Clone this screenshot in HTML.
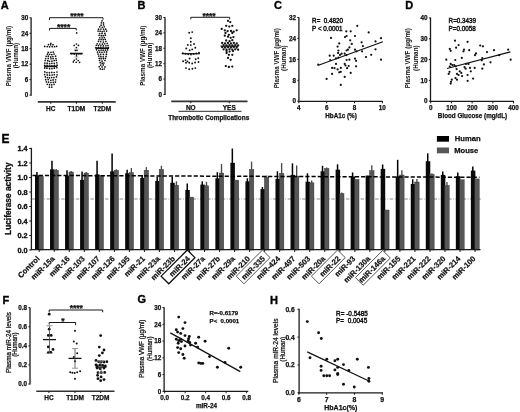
<!DOCTYPE html>
<html><head><meta charset="utf-8"><style>
html,body{margin:0;padding:0;background:#fff;width:520px;height:412px;overflow:hidden;}
svg text{font-family:"Liberation Sans", sans-serif;}
svg{filter:blur(0.4px);}
</style></head><body>
<svg width="520" height="412" viewBox="0 0 520 412" style="display:block">
<rect width="520" height="412" fill="#fff"/>
<g font-family='"Liberation Sans", sans-serif'>
<text x="4.80" y="8.94" font-size="11" font-weight="bold" text-anchor="middle" fill="#000" stroke="#000" stroke-width="0.35">A</text>
<line x1="31.10" y1="17.50" x2="31.10" y2="95.70" stroke="#1a1a1a" stroke-width="1.3" />
<line x1="29.50" y1="95.10" x2="31.10" y2="95.10" stroke="#1a1a1a" stroke-width="1" />
<text x="28.20" y="97.36" font-size="6.3" font-weight="bold" text-anchor="end" fill="#111" stroke="#111" stroke-width="0.25" >0</text>
<line x1="29.50" y1="79.64" x2="31.10" y2="79.64" stroke="#1a1a1a" stroke-width="1" />
<text x="28.20" y="81.89" font-size="6.3" font-weight="bold" text-anchor="end" fill="#111" stroke="#111" stroke-width="0.25" >6</text>
<line x1="29.50" y1="64.18" x2="31.10" y2="64.18" stroke="#1a1a1a" stroke-width="1" />
<text x="28.20" y="66.43" font-size="6.3" font-weight="bold" text-anchor="end" fill="#111" stroke="#111" stroke-width="0.25" >12</text>
<line x1="29.50" y1="48.71" x2="31.10" y2="48.71" stroke="#1a1a1a" stroke-width="1" />
<text x="28.20" y="50.97" font-size="6.3" font-weight="bold" text-anchor="end" fill="#111" stroke="#111" stroke-width="0.25" >18</text>
<line x1="29.50" y1="33.25" x2="31.10" y2="33.25" stroke="#1a1a1a" stroke-width="1" />
<text x="28.20" y="35.51" font-size="6.3" font-weight="bold" text-anchor="end" fill="#111" stroke="#111" stroke-width="0.25" >24</text>
<line x1="29.50" y1="17.79" x2="31.10" y2="17.79" stroke="#1a1a1a" stroke-width="1" />
<text x="28.20" y="20.05" font-size="6.3" font-weight="bold" text-anchor="end" fill="#111" stroke="#111" stroke-width="0.25" >30</text>
<text transform="translate(10.90,56.00) rotate(-90)" font-size="6.3" font-weight="bold" text-anchor="middle" fill="#111">Plasma VWF (µg/ml)</text>
<text transform="translate(18.20,55.60) rotate(-90)" font-size="6.3" font-weight="bold" text-anchor="middle" fill="#111">(Human)</text>
<line x1="37.80" y1="101.90" x2="115.70" y2="101.90" stroke="#333" stroke-width="1.7" />
<line x1="50.80" y1="102.00" x2="50.80" y2="103.80" stroke="#1a1a1a" stroke-width="1" />
<text x="50.80" y="110.53" font-size="6.5" font-weight="bold" text-anchor="middle" fill="#111" stroke="#111" stroke-width="0.25" >HC</text>
<line x1="76.40" y1="102.00" x2="76.40" y2="103.80" stroke="#1a1a1a" stroke-width="1" />
<text x="76.40" y="110.53" font-size="6.5" font-weight="bold" text-anchor="middle" fill="#111" stroke="#111" stroke-width="0.25" >T1DM</text>
<line x1="102.30" y1="102.00" x2="102.30" y2="103.80" stroke="#1a1a1a" stroke-width="1" />
<text x="102.30" y="110.53" font-size="6.5" font-weight="bold" text-anchor="middle" fill="#111" stroke="#111" stroke-width="0.25" >T2DM</text>
<polyline points="49.50,19.90 49.50,17.70 103.00,17.70 103.00,19.70" fill="none" stroke="#1a1a1a" stroke-width="1"/>
<text x="76.90" y="18.95" font-size="8.5" font-weight="bold" text-anchor="middle" fill="#111" stroke="#111" stroke-width="0.25">****</text>
<polyline points="49.50,30.40 49.50,28.40 76.20,28.40 76.20,30.40" fill="none" stroke="#1a1a1a" stroke-width="1"/>
<text x="63.60" y="29.55" font-size="8.5" font-weight="bold" text-anchor="middle" fill="#111" stroke="#111" stroke-width="0.25">****</text>
<circle cx="50.82" cy="43.30" r="0.85" fill="#111"/>
<circle cx="48.48" cy="44.61" r="0.85" fill="#111"/>
<circle cx="50.60" cy="44.83" r="0.85" fill="#111"/>
<circle cx="52.99" cy="44.68" r="0.85" fill="#111"/>
<circle cx="44.73" cy="46.39" r="0.85" fill="#111"/>
<circle cx="47.23" cy="46.58" r="0.85" fill="#111"/>
<circle cx="49.52" cy="46.79" r="0.85" fill="#111"/>
<circle cx="52.19" cy="46.69" r="0.85" fill="#111"/>
<circle cx="54.58" cy="46.70" r="0.85" fill="#111"/>
<circle cx="56.71" cy="46.29" r="0.85" fill="#111"/>
<circle cx="48.23" cy="52.44" r="0.85" fill="#111"/>
<circle cx="50.93" cy="52.26" r="0.85" fill="#111"/>
<circle cx="53.28" cy="52.07" r="0.85" fill="#111"/>
<circle cx="47.45" cy="54.21" r="0.85" fill="#111"/>
<circle cx="49.65" cy="54.36" r="0.85" fill="#111"/>
<circle cx="51.85" cy="54.55" r="0.85" fill="#111"/>
<circle cx="54.07" cy="54.09" r="0.85" fill="#111"/>
<circle cx="46.21" cy="56.33" r="0.85" fill="#111"/>
<circle cx="48.29" cy="56.22" r="0.85" fill="#111"/>
<circle cx="50.72" cy="56.90" r="0.85" fill="#111"/>
<circle cx="52.90" cy="56.56" r="0.85" fill="#111"/>
<circle cx="55.60" cy="56.18" r="0.85" fill="#111"/>
<circle cx="45.69" cy="58.53" r="0.85" fill="#111"/>
<circle cx="48.27" cy="58.42" r="0.85" fill="#111"/>
<circle cx="50.99" cy="58.76" r="0.85" fill="#111"/>
<circle cx="53.10" cy="58.56" r="0.85" fill="#111"/>
<circle cx="55.90" cy="58.50" r="0.85" fill="#111"/>
<circle cx="45.14" cy="60.48" r="0.85" fill="#111"/>
<circle cx="47.75" cy="60.72" r="0.85" fill="#111"/>
<circle cx="49.47" cy="61.27" r="0.85" fill="#111"/>
<circle cx="51.93" cy="61.17" r="0.85" fill="#111"/>
<circle cx="54.22" cy="60.60" r="0.85" fill="#111"/>
<circle cx="56.30" cy="60.32" r="0.85" fill="#111"/>
<circle cx="44.87" cy="63.11" r="0.85" fill="#111"/>
<circle cx="47.13" cy="63.20" r="0.85" fill="#111"/>
<circle cx="49.63" cy="63.64" r="0.85" fill="#111"/>
<circle cx="51.93" cy="63.32" r="0.85" fill="#111"/>
<circle cx="54.29" cy="63.23" r="0.85" fill="#111"/>
<circle cx="56.75" cy="62.73" r="0.85" fill="#111"/>
<circle cx="44.68" cy="65.46" r="0.85" fill="#111"/>
<circle cx="47.07" cy="65.47" r="0.85" fill="#111"/>
<circle cx="49.67" cy="66.03" r="0.85" fill="#111"/>
<circle cx="51.84" cy="65.78" r="0.85" fill="#111"/>
<circle cx="54.41" cy="65.41" r="0.85" fill="#111"/>
<circle cx="57.07" cy="65.13" r="0.85" fill="#111"/>
<circle cx="44.73" cy="67.91" r="0.85" fill="#111"/>
<circle cx="46.91" cy="68.14" r="0.85" fill="#111"/>
<circle cx="49.59" cy="68.67" r="0.85" fill="#111"/>
<circle cx="51.96" cy="68.54" r="0.85" fill="#111"/>
<circle cx="54.33" cy="68.21" r="0.85" fill="#111"/>
<circle cx="56.89" cy="67.75" r="0.85" fill="#111"/>
<circle cx="44.85" cy="71.90" r="0.85" fill="#111"/>
<circle cx="46.97" cy="72.61" r="0.85" fill="#111"/>
<circle cx="49.39" cy="72.63" r="0.85" fill="#111"/>
<circle cx="51.76" cy="72.45" r="0.85" fill="#111"/>
<circle cx="54.25" cy="72.50" r="0.85" fill="#111"/>
<circle cx="56.98" cy="72.00" r="0.85" fill="#111"/>
<circle cx="44.68" cy="74.53" r="0.85" fill="#111"/>
<circle cx="47.25" cy="74.93" r="0.85" fill="#111"/>
<circle cx="49.58" cy="75.17" r="0.85" fill="#111"/>
<circle cx="52.11" cy="75.09" r="0.85" fill="#111"/>
<circle cx="54.26" cy="74.73" r="0.85" fill="#111"/>
<circle cx="57.03" cy="74.76" r="0.85" fill="#111"/>
<circle cx="45.37" cy="76.90" r="0.85" fill="#111"/>
<circle cx="47.48" cy="77.56" r="0.85" fill="#111"/>
<circle cx="49.49" cy="77.84" r="0.85" fill="#111"/>
<circle cx="51.69" cy="77.57" r="0.85" fill="#111"/>
<circle cx="53.95" cy="77.53" r="0.85" fill="#111"/>
<circle cx="56.47" cy="76.96" r="0.85" fill="#111"/>
<circle cx="45.65" cy="79.70" r="0.85" fill="#111"/>
<circle cx="48.21" cy="79.58" r="0.85" fill="#111"/>
<circle cx="50.82" cy="80.32" r="0.85" fill="#111"/>
<circle cx="53.10" cy="79.95" r="0.85" fill="#111"/>
<circle cx="55.69" cy="79.74" r="0.85" fill="#111"/>
<circle cx="46.36" cy="81.87" r="0.85" fill="#111"/>
<circle cx="48.53" cy="82.15" r="0.85" fill="#111"/>
<circle cx="50.99" cy="82.49" r="0.85" fill="#111"/>
<circle cx="53.32" cy="82.33" r="0.85" fill="#111"/>
<circle cx="55.42" cy="82.08" r="0.85" fill="#111"/>
<circle cx="47.28" cy="84.31" r="0.85" fill="#111"/>
<circle cx="49.54" cy="84.64" r="0.85" fill="#111"/>
<circle cx="51.73" cy="84.78" r="0.85" fill="#111"/>
<circle cx="54.07" cy="84.35" r="0.85" fill="#111"/>
<circle cx="49.44" cy="87.18" r="0.85" fill="#111"/>
<circle cx="51.80" cy="87.06" r="0.85" fill="#111"/>
<circle cx="76.65" cy="32.90" r="0.85" fill="#111"/>
<circle cx="76.48" cy="44.00" r="0.85" fill="#111"/>
<circle cx="74.19" cy="45.46" r="0.85" fill="#111"/>
<circle cx="78.47" cy="45.45" r="0.85" fill="#111"/>
<circle cx="76.40" cy="47.60" r="0.85" fill="#111"/>
<circle cx="75.42" cy="50.39" r="0.85" fill="#111"/>
<circle cx="76.97" cy="50.32" r="0.85" fill="#111"/>
<circle cx="71.59" cy="53.65" r="0.85" fill="#111"/>
<circle cx="74.24" cy="54.09" r="0.85" fill="#111"/>
<circle cx="76.63" cy="54.12" r="0.85" fill="#111"/>
<circle cx="78.86" cy="53.81" r="0.85" fill="#111"/>
<circle cx="81.00" cy="53.87" r="0.85" fill="#111"/>
<circle cx="76.52" cy="55.90" r="0.85" fill="#111"/>
<circle cx="76.42" cy="59.00" r="0.85" fill="#111"/>
<circle cx="74.23" cy="60.26" r="0.85" fill="#111"/>
<circle cx="78.24" cy="60.51" r="0.85" fill="#111"/>
<circle cx="73.36" cy="61.96" r="0.85" fill="#111"/>
<circle cx="76.19" cy="62.27" r="0.85" fill="#111"/>
<circle cx="79.60" cy="62.32" r="0.85" fill="#111"/>
<circle cx="102.02" cy="20.80" r="0.85" fill="#111"/>
<circle cx="101.32" cy="22.80" r="0.85" fill="#111"/>
<circle cx="103.46" cy="22.89" r="0.85" fill="#111"/>
<circle cx="101.08" cy="25.17" r="0.85" fill="#111"/>
<circle cx="103.58" cy="24.92" r="0.85" fill="#111"/>
<circle cx="99.78" cy="26.82" r="0.85" fill="#111"/>
<circle cx="102.32" cy="27.37" r="0.85" fill="#111"/>
<circle cx="104.34" cy="26.75" r="0.85" fill="#111"/>
<circle cx="98.55" cy="29.20" r="0.85" fill="#111"/>
<circle cx="100.98" cy="29.04" r="0.85" fill="#111"/>
<circle cx="103.58" cy="29.09" r="0.85" fill="#111"/>
<circle cx="105.71" cy="29.19" r="0.85" fill="#111"/>
<circle cx="98.07" cy="31.09" r="0.85" fill="#111"/>
<circle cx="100.08" cy="31.17" r="0.85" fill="#111"/>
<circle cx="102.22" cy="31.55" r="0.85" fill="#111"/>
<circle cx="104.09" cy="31.05" r="0.85" fill="#111"/>
<circle cx="106.58" cy="31.09" r="0.85" fill="#111"/>
<circle cx="99.61" cy="33.51" r="0.85" fill="#111"/>
<circle cx="102.05" cy="33.41" r="0.85" fill="#111"/>
<circle cx="104.92" cy="33.41" r="0.85" fill="#111"/>
<circle cx="99.07" cy="35.35" r="0.85" fill="#111"/>
<circle cx="101.28" cy="35.65" r="0.85" fill="#111"/>
<circle cx="103.18" cy="35.70" r="0.85" fill="#111"/>
<circle cx="105.26" cy="35.15" r="0.85" fill="#111"/>
<circle cx="99.72" cy="37.76" r="0.85" fill="#111"/>
<circle cx="102.12" cy="37.85" r="0.85" fill="#111"/>
<circle cx="104.30" cy="37.57" r="0.85" fill="#111"/>
<circle cx="99.00" cy="39.61" r="0.85" fill="#111"/>
<circle cx="101.12" cy="39.54" r="0.85" fill="#111"/>
<circle cx="103.25" cy="39.66" r="0.85" fill="#111"/>
<circle cx="105.25" cy="39.27" r="0.85" fill="#111"/>
<circle cx="98.48" cy="41.36" r="0.85" fill="#111"/>
<circle cx="100.69" cy="41.73" r="0.85" fill="#111"/>
<circle cx="103.35" cy="42.06" r="0.85" fill="#111"/>
<circle cx="105.88" cy="41.39" r="0.85" fill="#111"/>
<circle cx="97.29" cy="43.73" r="0.85" fill="#111"/>
<circle cx="99.77" cy="43.98" r="0.85" fill="#111"/>
<circle cx="102.43" cy="44.21" r="0.85" fill="#111"/>
<circle cx="104.65" cy="43.74" r="0.85" fill="#111"/>
<circle cx="107.18" cy="43.49" r="0.85" fill="#111"/>
<circle cx="96.32" cy="45.25" r="0.85" fill="#111"/>
<circle cx="98.46" cy="45.57" r="0.85" fill="#111"/>
<circle cx="100.83" cy="45.86" r="0.85" fill="#111"/>
<circle cx="103.34" cy="45.90" r="0.85" fill="#111"/>
<circle cx="105.95" cy="45.81" r="0.85" fill="#111"/>
<circle cx="108.01" cy="45.48" r="0.85" fill="#111"/>
<circle cx="95.89" cy="47.64" r="0.85" fill="#111"/>
<circle cx="98.51" cy="47.66" r="0.85" fill="#111"/>
<circle cx="100.83" cy="47.92" r="0.85" fill="#111"/>
<circle cx="103.21" cy="48.22" r="0.85" fill="#111"/>
<circle cx="106.10" cy="48.09" r="0.85" fill="#111"/>
<circle cx="108.36" cy="47.70" r="0.85" fill="#111"/>
<circle cx="96.57" cy="49.80" r="0.85" fill="#111"/>
<circle cx="98.87" cy="50.24" r="0.85" fill="#111"/>
<circle cx="101.11" cy="50.03" r="0.85" fill="#111"/>
<circle cx="103.18" cy="50.18" r="0.85" fill="#111"/>
<circle cx="105.41" cy="50.11" r="0.85" fill="#111"/>
<circle cx="107.56" cy="49.95" r="0.85" fill="#111"/>
<circle cx="97.49" cy="52.05" r="0.85" fill="#111"/>
<circle cx="99.69" cy="52.07" r="0.85" fill="#111"/>
<circle cx="101.95" cy="52.36" r="0.85" fill="#111"/>
<circle cx="104.33" cy="51.98" r="0.85" fill="#111"/>
<circle cx="106.57" cy="51.97" r="0.85" fill="#111"/>
<circle cx="98.05" cy="54.08" r="0.85" fill="#111"/>
<circle cx="100.62" cy="54.44" r="0.85" fill="#111"/>
<circle cx="103.41" cy="54.47" r="0.85" fill="#111"/>
<circle cx="106.43" cy="54.13" r="0.85" fill="#111"/>
<circle cx="98.81" cy="56.10" r="0.85" fill="#111"/>
<circle cx="100.92" cy="56.66" r="0.85" fill="#111"/>
<circle cx="103.21" cy="56.78" r="0.85" fill="#111"/>
<circle cx="106.03" cy="56.39" r="0.85" fill="#111"/>
<circle cx="99.19" cy="58.23" r="0.85" fill="#111"/>
<circle cx="101.17" cy="58.63" r="0.85" fill="#111"/>
<circle cx="103.37" cy="58.69" r="0.85" fill="#111"/>
<circle cx="105.41" cy="58.47" r="0.85" fill="#111"/>
<circle cx="99.52" cy="60.47" r="0.85" fill="#111"/>
<circle cx="102.04" cy="61.03" r="0.85" fill="#111"/>
<circle cx="104.94" cy="60.50" r="0.85" fill="#111"/>
<circle cx="100.20" cy="62.65" r="0.85" fill="#111"/>
<circle cx="102.23" cy="63.13" r="0.85" fill="#111"/>
<circle cx="103.89" cy="63.00" r="0.85" fill="#111"/>
<circle cx="100.77" cy="65.08" r="0.85" fill="#111"/>
<circle cx="103.21" cy="64.88" r="0.85" fill="#111"/>
<circle cx="99.23" cy="66.66" r="0.85" fill="#111"/>
<circle cx="102.08" cy="66.89" r="0.85" fill="#111"/>
<circle cx="104.95" cy="66.89" r="0.85" fill="#111"/>
<circle cx="100.25" cy="68.89" r="0.85" fill="#111"/>
<circle cx="102.28" cy="69.25" r="0.85" fill="#111"/>
<circle cx="104.19" cy="69.00" r="0.85" fill="#111"/>
<line x1="44.30" y1="66.40" x2="57.30" y2="66.40" stroke="#111" stroke-width="1.6" />
<line x1="70.00" y1="53.50" x2="82.70" y2="53.50" stroke="#111" stroke-width="1.5" />
<line x1="95.50" y1="48.20" x2="109.00" y2="48.20" stroke="#111" stroke-width="1.6" />
<line x1="73.80" y1="49.20" x2="78.80" y2="49.20" stroke="#aaa" stroke-width="0.7" />
<line x1="73.80" y1="57.20" x2="78.80" y2="57.20" stroke="#aaa" stroke-width="0.7" />
<text x="141.45" y="8.92" font-size="11" font-weight="bold" text-anchor="middle" fill="#000" stroke="#000" stroke-width="0.35">B</text>
<line x1="165.00" y1="17.30" x2="165.00" y2="95.10" stroke="#1a1a1a" stroke-width="1.3" />
<line x1="163.40" y1="94.50" x2="165.00" y2="94.50" stroke="#1a1a1a" stroke-width="1" />
<text x="162.10" y="96.76" font-size="6.3" font-weight="bold" text-anchor="end" fill="#111" stroke="#111" stroke-width="0.25" >0</text>
<line x1="163.40" y1="79.10" x2="165.00" y2="79.10" stroke="#1a1a1a" stroke-width="1" />
<text x="162.10" y="81.35" font-size="6.3" font-weight="bold" text-anchor="end" fill="#111" stroke="#111" stroke-width="0.25" >6</text>
<line x1="163.40" y1="63.70" x2="165.00" y2="63.70" stroke="#1a1a1a" stroke-width="1" />
<text x="162.10" y="65.95" font-size="6.3" font-weight="bold" text-anchor="end" fill="#111" stroke="#111" stroke-width="0.25" >12</text>
<line x1="163.40" y1="48.29" x2="165.00" y2="48.29" stroke="#1a1a1a" stroke-width="1" />
<text x="162.10" y="50.55" font-size="6.3" font-weight="bold" text-anchor="end" fill="#111" stroke="#111" stroke-width="0.25" >18</text>
<line x1="163.40" y1="32.89" x2="165.00" y2="32.89" stroke="#1a1a1a" stroke-width="1" />
<text x="162.10" y="35.15" font-size="6.3" font-weight="bold" text-anchor="end" fill="#111" stroke="#111" stroke-width="0.25" >24</text>
<line x1="163.40" y1="17.49" x2="165.00" y2="17.49" stroke="#1a1a1a" stroke-width="1" />
<text x="162.10" y="19.75" font-size="6.3" font-weight="bold" text-anchor="end" fill="#111" stroke="#111" stroke-width="0.25" >30</text>
<text transform="translate(144.80,55.70) rotate(-90)" font-size="6.3" font-weight="bold" text-anchor="middle" fill="#111">Plasma VWF (µg/ml)</text>
<text transform="translate(152.10,55.30) rotate(-90)" font-size="6.3" font-weight="bold" text-anchor="middle" fill="#111">(Human)</text>
<line x1="171.25" y1="101.30" x2="247.50" y2="101.30" stroke="#333" stroke-width="1.7" />
<line x1="190.75" y1="101.30" x2="190.75" y2="103.20" stroke="#1a1a1a" stroke-width="1" />
<text x="190.75" y="109.93" font-size="6.5" font-weight="bold" text-anchor="middle" fill="#111" stroke="#111" stroke-width="0.25" >NO</text>
<line x1="229.25" y1="101.30" x2="229.25" y2="103.20" stroke="#1a1a1a" stroke-width="1" />
<text x="229.25" y="109.93" font-size="6.5" font-weight="bold" text-anchor="middle" fill="#111" stroke="#111" stroke-width="0.25" >YES</text>
<line x1="178.50" y1="111.40" x2="241.50" y2="111.40" stroke="#555" stroke-width="1.3" />
<text x="208.75" y="119.79" font-size="6.4" font-weight="bold" text-anchor="middle" fill="#111" stroke="#111" stroke-width="0.25" >Thrombotic Complications</text>
<polyline points="190.80,19.40 190.80,17.30 229.70,17.30 229.70,19.40" fill="none" stroke="#1a1a1a" stroke-width="1"/>
<text x="209.00" y="19.15" font-size="8.5" font-weight="bold" text-anchor="middle" fill="#111" stroke="#111" stroke-width="0.25">****</text>
<circle cx="189.20" cy="32.80" r="0.95" fill="#111"/>
<circle cx="192.20" cy="32.10" r="0.95" fill="#111"/>
<circle cx="190.80" cy="38.20" r="0.95" fill="#111"/>
<circle cx="190.80" cy="41.70" r="0.95" fill="#111"/>
<circle cx="187.80" cy="44.90" r="0.95" fill="#111"/>
<circle cx="190.80" cy="45.10" r="0.95" fill="#111"/>
<circle cx="194.00" cy="44.00" r="0.95" fill="#111"/>
<circle cx="186.30" cy="48.50" r="0.95" fill="#111"/>
<circle cx="189.60" cy="50.30" r="0.95" fill="#111"/>
<circle cx="192.20" cy="49.40" r="0.95" fill="#111"/>
<circle cx="195.30" cy="47.80" r="0.95" fill="#111"/>
<circle cx="182.80" cy="53.20" r="0.95" fill="#111"/>
<circle cx="185.50" cy="53.70" r="0.95" fill="#111"/>
<circle cx="188.20" cy="54.20" r="0.95" fill="#111"/>
<circle cx="190.90" cy="54.50" r="0.95" fill="#111"/>
<circle cx="193.60" cy="54.00" r="0.95" fill="#111"/>
<circle cx="196.30" cy="53.50" r="0.95" fill="#111"/>
<circle cx="199.00" cy="52.80" r="0.95" fill="#111"/>
<circle cx="189.60" cy="58.50" r="0.95" fill="#111"/>
<circle cx="195.70" cy="59.20" r="0.95" fill="#111"/>
<circle cx="198.30" cy="58.30" r="0.95" fill="#111"/>
<circle cx="183.10" cy="61.20" r="0.95" fill="#111"/>
<circle cx="185.50" cy="60.10" r="0.95" fill="#111"/>
<circle cx="187.40" cy="61.40" r="0.95" fill="#111"/>
<circle cx="189.20" cy="62.80" r="0.95" fill="#111"/>
<circle cx="192.20" cy="63.50" r="0.95" fill="#111"/>
<circle cx="195.10" cy="62.50" r="0.95" fill="#111"/>
<circle cx="198.50" cy="62.00" r="0.95" fill="#111"/>
<circle cx="186.00" cy="62.80" r="0.95" fill="#111"/>
<circle cx="186.00" cy="68.10" r="0.95" fill="#111"/>
<circle cx="189.20" cy="69.20" r="0.95" fill="#111"/>
<circle cx="192.40" cy="68.70" r="0.95" fill="#111"/>
<circle cx="195.30" cy="68.10" r="0.95" fill="#111"/>
<circle cx="228.00" cy="20.80" r="1.15" fill="#111"/>
<circle cx="230.30" cy="22.10" r="1.15" fill="#111"/>
<circle cx="226.20" cy="25.80" r="1.15" fill="#111"/>
<circle cx="229.30" cy="26.60" r="1.15" fill="#111"/>
<circle cx="232.30" cy="25.80" r="1.15" fill="#111"/>
<circle cx="221.70" cy="28.90" r="1.15" fill="#111"/>
<circle cx="224.80" cy="30.30" r="1.15" fill="#111"/>
<circle cx="227.60" cy="31.20" r="1.15" fill="#111"/>
<circle cx="231.00" cy="31.00" r="1.15" fill="#111"/>
<circle cx="233.70" cy="31.70" r="1.15" fill="#111"/>
<circle cx="236.70" cy="30.30" r="1.15" fill="#111"/>
<circle cx="225.50" cy="33.00" r="1.15" fill="#111"/>
<circle cx="232.30" cy="33.00" r="1.15" fill="#111"/>
<circle cx="224.80" cy="35.70" r="1.15" fill="#111"/>
<circle cx="228.00" cy="36.70" r="1.15" fill="#111"/>
<circle cx="230.70" cy="37.80" r="1.15" fill="#111"/>
<circle cx="228.90" cy="34.80" r="1.15" fill="#111"/>
<circle cx="233.40" cy="37.10" r="1.15" fill="#111"/>
<circle cx="226.20" cy="40.50" r="1.15" fill="#111"/>
<circle cx="229.60" cy="41.20" r="1.15" fill="#111"/>
<circle cx="232.30" cy="40.20" r="1.15" fill="#111"/>
<circle cx="226.60" cy="51.10" r="1.15" fill="#111"/>
<circle cx="229.60" cy="51.60" r="1.15" fill="#111"/>
<circle cx="233.00" cy="51.10" r="1.15" fill="#111"/>
<circle cx="226.60" cy="53.00" r="1.15" fill="#111"/>
<circle cx="228.90" cy="54.80" r="1.15" fill="#111"/>
<circle cx="232.30" cy="54.80" r="1.15" fill="#111"/>
<circle cx="228.00" cy="57.90" r="1.15" fill="#111"/>
<circle cx="230.70" cy="59.80" r="1.15" fill="#111"/>
<circle cx="225.80" cy="66.10" r="1.15" fill="#111"/>
<circle cx="228.90" cy="67.00" r="1.15" fill="#111"/>
<circle cx="232.30" cy="66.60" r="1.15" fill="#111"/>
<circle cx="222.20" cy="43.00" r="1.15" fill="#111"/>
<circle cx="225.10" cy="43.40" r="1.15" fill="#111"/>
<circle cx="228.00" cy="43.00" r="1.15" fill="#111"/>
<circle cx="230.90" cy="43.40" r="1.15" fill="#111"/>
<circle cx="233.80" cy="43.00" r="1.15" fill="#111"/>
<circle cx="236.70" cy="43.40" r="1.15" fill="#111"/>
<circle cx="223.60" cy="45.10" r="1.15" fill="#111"/>
<circle cx="226.50" cy="45.50" r="1.15" fill="#111"/>
<circle cx="229.40" cy="45.10" r="1.15" fill="#111"/>
<circle cx="232.30" cy="45.50" r="1.15" fill="#111"/>
<circle cx="235.20" cy="45.10" r="1.15" fill="#111"/>
<circle cx="238.10" cy="45.50" r="1.15" fill="#111"/>
<circle cx="222.20" cy="47.20" r="1.15" fill="#111"/>
<circle cx="225.10" cy="47.60" r="1.15" fill="#111"/>
<circle cx="228.00" cy="47.20" r="1.15" fill="#111"/>
<circle cx="230.90" cy="47.60" r="1.15" fill="#111"/>
<circle cx="233.80" cy="47.20" r="1.15" fill="#111"/>
<circle cx="236.70" cy="47.60" r="1.15" fill="#111"/>
<circle cx="223.60" cy="49.30" r="1.15" fill="#111"/>
<circle cx="226.50" cy="49.70" r="1.15" fill="#111"/>
<circle cx="229.40" cy="49.30" r="1.15" fill="#111"/>
<circle cx="232.30" cy="49.70" r="1.15" fill="#111"/>
<circle cx="235.20" cy="49.30" r="1.15" fill="#111"/>
<circle cx="238.10" cy="49.70" r="1.15" fill="#111"/>
<line x1="181.70" y1="53.70" x2="199.90" y2="53.70" stroke="#111" stroke-width="1.2" />
<line x1="220.50" y1="46.20" x2="238.00" y2="46.20" stroke="#111" stroke-width="1.2" />
<text x="278.10" y="9.14" font-size="11" font-weight="bold" text-anchor="middle" fill="#000" stroke="#000" stroke-width="0.35">C</text>
<line x1="298.90" y1="17.30" x2="298.90" y2="101.80" stroke="#1a1a1a" stroke-width="1.3" />
<line x1="297.30" y1="101.20" x2="298.90" y2="101.20" stroke="#1a1a1a" stroke-width="1" />
<text x="296.00" y="103.46" font-size="6.3" font-weight="bold" text-anchor="end" fill="#111" stroke="#111" stroke-width="0.25" >0</text>
<line x1="297.30" y1="80.27" x2="298.90" y2="80.27" stroke="#1a1a1a" stroke-width="1" />
<text x="296.00" y="82.53" font-size="6.3" font-weight="bold" text-anchor="end" fill="#111" stroke="#111" stroke-width="0.25" >8</text>
<line x1="297.30" y1="59.34" x2="298.90" y2="59.34" stroke="#1a1a1a" stroke-width="1" />
<text x="296.00" y="61.60" font-size="6.3" font-weight="bold" text-anchor="end" fill="#111" stroke="#111" stroke-width="0.25" >16</text>
<line x1="297.30" y1="38.42" x2="298.90" y2="38.42" stroke="#1a1a1a" stroke-width="1" />
<text x="296.00" y="40.67" font-size="6.3" font-weight="bold" text-anchor="end" fill="#111" stroke="#111" stroke-width="0.25" >24</text>
<line x1="297.30" y1="17.49" x2="298.90" y2="17.49" stroke="#1a1a1a" stroke-width="1" />
<text x="296.00" y="19.74" font-size="6.3" font-weight="bold" text-anchor="end" fill="#111" stroke="#111" stroke-width="0.25" >32</text>
<text transform="translate(278.70,58.20) rotate(-90)" font-size="6.3" font-weight="bold" text-anchor="middle" fill="#111">Plasma VWF (µg/ml)</text>
<text transform="translate(286.00,58.20) rotate(-90)" font-size="6.3" font-weight="bold" text-anchor="middle" fill="#111">(Human)</text>
<line x1="298.20" y1="101.30" x2="382.90" y2="101.30" stroke="#1a1a1a" stroke-width="1.2" />
<line x1="298.80" y1="101.30" x2="298.80" y2="103.30" stroke="#1a1a1a" stroke-width="1" />
<text x="298.80" y="109.86" font-size="6.3" font-weight="bold" text-anchor="middle" fill="#111" stroke="#111" stroke-width="0.25" >4</text>
<line x1="326.66" y1="101.30" x2="326.66" y2="103.30" stroke="#1a1a1a" stroke-width="1" />
<text x="326.66" y="109.86" font-size="6.3" font-weight="bold" text-anchor="middle" fill="#111" stroke="#111" stroke-width="0.25" >6</text>
<line x1="354.52" y1="101.30" x2="354.52" y2="103.30" stroke="#1a1a1a" stroke-width="1" />
<text x="354.52" y="109.86" font-size="6.3" font-weight="bold" text-anchor="middle" fill="#111" stroke="#111" stroke-width="0.25" >8</text>
<line x1="382.38" y1="101.30" x2="382.38" y2="103.30" stroke="#1a1a1a" stroke-width="1" />
<text x="382.38" y="109.86" font-size="6.3" font-weight="bold" text-anchor="middle" fill="#111" stroke="#111" stroke-width="0.25" >10</text>
<text x="341.00" y="118.46" font-size="6.3" font-weight="bold" text-anchor="middle" fill="#111" stroke="#111" stroke-width="0.25" >HbA1c (%)</text>
<text x="312.10" y="22.56" font-size="6.3" font-weight="normal" text-anchor="start" fill="#111" stroke="#111" stroke-width="0.4" >R=&#160;&#160;0.4820</text>
<text x="312.10" y="30.56" font-size="6.3" font-weight="normal" text-anchor="start" fill="#111" stroke="#111" stroke-width="0.4" >P &lt; 0.0001</text>
<circle cx="346.30" cy="31.30" r="1.1" fill="#111"/>
<circle cx="350.70" cy="31.30" r="1.1" fill="#111"/>
<circle cx="368.70" cy="32.40" r="1.1" fill="#111"/>
<circle cx="331.00" cy="37.90" r="1.1" fill="#111"/>
<circle cx="345.00" cy="37.10" r="1.1" fill="#111"/>
<circle cx="346.60" cy="36.00" r="1.1" fill="#111"/>
<circle cx="355.00" cy="36.00" r="1.1" fill="#111"/>
<circle cx="381.00" cy="38.20" r="1.1" fill="#111"/>
<circle cx="350.20" cy="40.30" r="1.1" fill="#111"/>
<circle cx="375.50" cy="41.40" r="1.1" fill="#111"/>
<circle cx="361.60" cy="42.30" r="1.1" fill="#111"/>
<circle cx="339.20" cy="43.40" r="1.1" fill="#111"/>
<circle cx="351.80" cy="43.90" r="1.1" fill="#111"/>
<circle cx="362.90" cy="46.10" r="1.1" fill="#111"/>
<circle cx="337.60" cy="46.60" r="1.1" fill="#111"/>
<circle cx="349.40" cy="47.40" r="1.1" fill="#111"/>
<circle cx="347.90" cy="49.70" r="1.1" fill="#111"/>
<circle cx="346.60" cy="50.50" r="1.1" fill="#111"/>
<circle cx="338.40" cy="50.50" r="1.1" fill="#111"/>
<circle cx="355.00" cy="49.70" r="1.1" fill="#111"/>
<circle cx="356.50" cy="51.30" r="1.1" fill="#111"/>
<circle cx="375.50" cy="49.30" r="1.1" fill="#111"/>
<circle cx="362.10" cy="51.30" r="1.1" fill="#111"/>
<circle cx="338.10" cy="52.90" r="1.1" fill="#111"/>
<circle cx="341.60" cy="53.70" r="1.1" fill="#111"/>
<circle cx="344.70" cy="53.70" r="1.1" fill="#111"/>
<circle cx="340.00" cy="54.90" r="1.1" fill="#111"/>
<circle cx="329.70" cy="55.70" r="1.1" fill="#111"/>
<circle cx="333.70" cy="55.70" r="1.1" fill="#111"/>
<circle cx="346.30" cy="55.20" r="1.1" fill="#111"/>
<circle cx="371.20" cy="54.80" r="1.1" fill="#111"/>
<circle cx="366.00" cy="57.10" r="1.1" fill="#111"/>
<circle cx="336.00" cy="58.40" r="1.1" fill="#111"/>
<circle cx="338.40" cy="57.60" r="1.1" fill="#111"/>
<circle cx="330.20" cy="60.00" r="1.1" fill="#111"/>
<circle cx="346.60" cy="60.00" r="1.1" fill="#111"/>
<circle cx="349.40" cy="59.70" r="1.1" fill="#111"/>
<circle cx="355.00" cy="58.70" r="1.1" fill="#111"/>
<circle cx="356.10" cy="60.80" r="1.1" fill="#111"/>
<circle cx="381.00" cy="59.70" r="1.1" fill="#111"/>
<circle cx="318.20" cy="64.70" r="1.1" fill="#111"/>
<circle cx="336.00" cy="63.90" r="1.1" fill="#111"/>
<circle cx="344.70" cy="63.90" r="1.1" fill="#111"/>
<circle cx="345.50" cy="65.50" r="1.1" fill="#111"/>
<circle cx="348.70" cy="66.00" r="1.1" fill="#111"/>
<circle cx="356.10" cy="66.30" r="1.1" fill="#111"/>
<circle cx="332.10" cy="67.90" r="1.1" fill="#111"/>
<circle cx="334.50" cy="68.20" r="1.1" fill="#111"/>
<circle cx="337.60" cy="69.40" r="1.1" fill="#111"/>
<circle cx="340.80" cy="67.90" r="1.1" fill="#111"/>
<circle cx="347.10" cy="68.20" r="1.1" fill="#111"/>
<circle cx="339.20" cy="72.30" r="1.1" fill="#111"/>
<circle cx="340.80" cy="71.80" r="1.1" fill="#111"/>
<circle cx="332.10" cy="73.90" r="1.1" fill="#111"/>
<circle cx="350.70" cy="72.90" r="1.1" fill="#111"/>
<circle cx="344.70" cy="76.90" r="1.1" fill="#111"/>
<circle cx="326.60" cy="78.90" r="1.1" fill="#111"/>
<circle cx="340.80" cy="84.90" r="1.1" fill="#111"/>
<circle cx="357.30" cy="25.80" r="1.1" fill="#111"/>
<line x1="318.40" y1="65.30" x2="382.90" y2="41.70" stroke="#111" stroke-width="1.2" />
<text x="409.15" y="8.94" font-size="11" font-weight="bold" text-anchor="middle" fill="#000" stroke="#000" stroke-width="0.35">D</text>
<line x1="430.50" y1="17.50" x2="430.50" y2="101.80" stroke="#1a1a1a" stroke-width="1.3" />
<line x1="428.90" y1="101.20" x2="430.50" y2="101.20" stroke="#1a1a1a" stroke-width="1" />
<text x="427.60" y="103.46" font-size="6.3" font-weight="bold" text-anchor="end" fill="#111" stroke="#111" stroke-width="0.25" >0</text>
<line x1="428.90" y1="80.40" x2="430.50" y2="80.40" stroke="#1a1a1a" stroke-width="1" />
<text x="427.60" y="82.66" font-size="6.3" font-weight="bold" text-anchor="end" fill="#111" stroke="#111" stroke-width="0.25" >10</text>
<line x1="428.90" y1="59.60" x2="430.50" y2="59.60" stroke="#1a1a1a" stroke-width="1" />
<text x="427.60" y="61.86" font-size="6.3" font-weight="bold" text-anchor="end" fill="#111" stroke="#111" stroke-width="0.25" >20</text>
<line x1="428.90" y1="38.80" x2="430.50" y2="38.80" stroke="#1a1a1a" stroke-width="1" />
<text x="427.60" y="41.06" font-size="6.3" font-weight="bold" text-anchor="end" fill="#111" stroke="#111" stroke-width="0.25" >30</text>
<line x1="428.90" y1="18.00" x2="430.50" y2="18.00" stroke="#1a1a1a" stroke-width="1" />
<text x="427.60" y="20.26" font-size="6.3" font-weight="bold" text-anchor="end" fill="#111" stroke="#111" stroke-width="0.25" >40</text>
<text transform="translate(410.30,58.20) rotate(-90)" font-size="6.3" font-weight="bold" text-anchor="middle" fill="#111">Plasma VWF (µg/ml)</text>
<text transform="translate(417.60,58.20) rotate(-90)" font-size="6.3" font-weight="bold" text-anchor="middle" fill="#111">(Human)</text>
<line x1="430.00" y1="101.40" x2="514.00" y2="101.40" stroke="#1a1a1a" stroke-width="1.2" />
<line x1="430.70" y1="101.40" x2="430.70" y2="103.40" stroke="#1a1a1a" stroke-width="1" />
<text x="430.70" y="109.86" font-size="6.3" font-weight="bold" text-anchor="middle" fill="#111" stroke="#111" stroke-width="0.25" >0</text>
<line x1="451.42" y1="101.40" x2="451.42" y2="103.40" stroke="#1a1a1a" stroke-width="1" />
<text x="451.42" y="109.86" font-size="6.3" font-weight="bold" text-anchor="middle" fill="#111" stroke="#111" stroke-width="0.25" >100</text>
<line x1="472.14" y1="101.40" x2="472.14" y2="103.40" stroke="#1a1a1a" stroke-width="1" />
<text x="472.14" y="109.86" font-size="6.3" font-weight="bold" text-anchor="middle" fill="#111" stroke="#111" stroke-width="0.25" >200</text>
<line x1="492.86" y1="101.40" x2="492.86" y2="103.40" stroke="#1a1a1a" stroke-width="1" />
<text x="492.86" y="109.86" font-size="6.3" font-weight="bold" text-anchor="middle" fill="#111" stroke="#111" stroke-width="0.25" >300</text>
<line x1="513.58" y1="101.40" x2="513.58" y2="103.40" stroke="#1a1a1a" stroke-width="1" />
<text x="513.58" y="109.86" font-size="6.3" font-weight="bold" text-anchor="middle" fill="#111" stroke="#111" stroke-width="0.25" >400</text>
<text x="472.50" y="118.46" font-size="6.3" font-weight="bold" text-anchor="middle" fill="#111" stroke="#111" stroke-width="0.25" >Blood Glucose (mg/dL)</text>
<text x="448.60" y="22.96" font-size="6.3" font-weight="normal" text-anchor="start" fill="#111" stroke="#111" stroke-width="0.4" >R=0.3439</text>
<text x="448.60" y="30.86" font-size="6.3" font-weight="normal" text-anchor="start" fill="#111" stroke="#111" stroke-width="0.4" >P=0.0058</text>
<circle cx="455.00" cy="40.70" r="1.1" fill="#111"/>
<circle cx="467.60" cy="41.80" r="1.1" fill="#111"/>
<circle cx="458.60" cy="45.00" r="1.1" fill="#111"/>
<circle cx="456.10" cy="47.70" r="1.1" fill="#111"/>
<circle cx="480.20" cy="45.50" r="1.1" fill="#111"/>
<circle cx="482.90" cy="46.30" r="1.1" fill="#111"/>
<circle cx="449.80" cy="48.90" r="1.1" fill="#111"/>
<circle cx="450.70" cy="50.80" r="1.1" fill="#111"/>
<circle cx="464.00" cy="49.70" r="1.1" fill="#111"/>
<circle cx="463.40" cy="51.30" r="1.1" fill="#111"/>
<circle cx="469.20" cy="50.20" r="1.1" fill="#111"/>
<circle cx="487.00" cy="52.10" r="1.1" fill="#111"/>
<circle cx="494.00" cy="50.20" r="1.1" fill="#111"/>
<circle cx="508.20" cy="49.70" r="1.1" fill="#111"/>
<circle cx="476.00" cy="53.40" r="1.1" fill="#111"/>
<circle cx="475.00" cy="55.20" r="1.1" fill="#111"/>
<circle cx="499.20" cy="55.20" r="1.1" fill="#111"/>
<circle cx="446.30" cy="59.70" r="1.1" fill="#111"/>
<circle cx="455.30" cy="60.00" r="1.1" fill="#111"/>
<circle cx="461.80" cy="57.90" r="1.1" fill="#111"/>
<circle cx="482.30" cy="58.10" r="1.1" fill="#111"/>
<circle cx="481.80" cy="60.30" r="1.1" fill="#111"/>
<circle cx="510.70" cy="59.70" r="1.1" fill="#111"/>
<circle cx="490.50" cy="62.30" r="1.1" fill="#111"/>
<circle cx="450.70" cy="63.90" r="1.1" fill="#111"/>
<circle cx="452.30" cy="65.00" r="1.1" fill="#111"/>
<circle cx="454.20" cy="65.00" r="1.1" fill="#111"/>
<circle cx="455.80" cy="66.30" r="1.1" fill="#111"/>
<circle cx="449.80" cy="66.60" r="1.1" fill="#111"/>
<circle cx="466.00" cy="63.90" r="1.1" fill="#111"/>
<circle cx="468.40" cy="63.90" r="1.1" fill="#111"/>
<circle cx="483.90" cy="64.40" r="1.1" fill="#111"/>
<circle cx="464.50" cy="67.10" r="1.1" fill="#111"/>
<circle cx="465.60" cy="68.70" r="1.1" fill="#111"/>
<circle cx="470.00" cy="67.90" r="1.1" fill="#111"/>
<circle cx="474.70" cy="67.90" r="1.1" fill="#111"/>
<circle cx="456.60" cy="69.10" r="1.1" fill="#111"/>
<circle cx="482.30" cy="68.70" r="1.1" fill="#111"/>
<circle cx="470.80" cy="71.30" r="1.1" fill="#111"/>
<circle cx="449.50" cy="71.80" r="1.1" fill="#111"/>
<circle cx="459.70" cy="71.30" r="1.1" fill="#111"/>
<circle cx="461.30" cy="72.90" r="1.1" fill="#111"/>
<circle cx="448.70" cy="73.90" r="1.1" fill="#111"/>
<circle cx="457.00" cy="73.90" r="1.1" fill="#111"/>
<circle cx="458.60" cy="75.00" r="1.1" fill="#111"/>
<circle cx="467.60" cy="75.00" r="1.1" fill="#111"/>
<circle cx="462.10" cy="76.10" r="1.1" fill="#111"/>
<circle cx="455.50" cy="78.10" r="1.1" fill="#111"/>
<circle cx="457.00" cy="79.70" r="1.1" fill="#111"/>
<circle cx="473.10" cy="78.60" r="1.1" fill="#111"/>
<circle cx="467.60" cy="80.80" r="1.1" fill="#111"/>
<circle cx="451.80" cy="79.70" r="1.1" fill="#111"/>
<circle cx="451.00" cy="81.80" r="1.1" fill="#111"/>
<circle cx="450.70" cy="83.60" r="1.1" fill="#111"/>
<line x1="447.00" y1="68.50" x2="510.40" y2="51.90" stroke="#111" stroke-width="1.2" />
<text x="5.55" y="142.50" font-size="12" font-weight="bold" text-anchor="middle" fill="#000" stroke="#000" stroke-width="0.35">E</text>
<line x1="31.40" y1="147.80" x2="31.40" y2="250.00" stroke="#1a1a1a" stroke-width="1.3" />
<line x1="29.20" y1="250.00" x2="31.40" y2="250.00" stroke="#1a1a1a" stroke-width="1" />
<text x="27.70" y="252.61" font-size="7.3" font-weight="bold" text-anchor="end" fill="#111" stroke="#111" stroke-width="0.35" >0.0</text>
<line x1="29.20" y1="235.50" x2="31.40" y2="235.50" stroke="#1a1a1a" stroke-width="1" />
<text x="27.70" y="238.11" font-size="7.3" font-weight="bold" text-anchor="end" fill="#111" stroke="#111" stroke-width="0.35" >0.2</text>
<line x1="29.20" y1="221.00" x2="31.40" y2="221.00" stroke="#1a1a1a" stroke-width="1" />
<text x="27.70" y="223.61" font-size="7.3" font-weight="bold" text-anchor="end" fill="#111" stroke="#111" stroke-width="0.35" >0.4</text>
<line x1="29.20" y1="206.50" x2="31.40" y2="206.50" stroke="#1a1a1a" stroke-width="1" />
<text x="27.70" y="209.11" font-size="7.3" font-weight="bold" text-anchor="end" fill="#111" stroke="#111" stroke-width="0.35" >0.6</text>
<line x1="29.20" y1="192.00" x2="31.40" y2="192.00" stroke="#1a1a1a" stroke-width="1" />
<text x="27.70" y="194.61" font-size="7.3" font-weight="bold" text-anchor="end" fill="#111" stroke="#111" stroke-width="0.35" >0.8</text>
<line x1="29.20" y1="177.50" x2="31.40" y2="177.50" stroke="#1a1a1a" stroke-width="1" />
<text x="27.70" y="180.11" font-size="7.3" font-weight="bold" text-anchor="end" fill="#111" stroke="#111" stroke-width="0.35" >1.0</text>
<line x1="29.20" y1="163.00" x2="31.40" y2="163.00" stroke="#1a1a1a" stroke-width="1" />
<text x="27.70" y="165.61" font-size="7.3" font-weight="bold" text-anchor="end" fill="#111" stroke="#111" stroke-width="0.35" >1.2</text>
<line x1="29.20" y1="148.50" x2="31.40" y2="148.50" stroke="#1a1a1a" stroke-width="1" />
<text x="27.70" y="151.11" font-size="7.3" font-weight="bold" text-anchor="end" fill="#111" stroke="#111" stroke-width="0.35" >1.4</text>
<text transform="translate(10.50,198.70) rotate(-90)" font-size="8.3" font-weight="bold" text-anchor="middle" fill="#111" stroke="#111" stroke-width="0.3">Luciferase activity</text>
<line x1="32.00" y1="199.00" x2="481.00" y2="199.00" stroke="#666" stroke-width="0.75" stroke-dasharray="3.5 1.5 0.8 1.5"/>
<rect x="35.00" y="175.40" width="4.50" height="74.60" fill="#0a0a0a" />
<line x1="36.95" y1="172.00" x2="36.95" y2="175.90" stroke="#000" stroke-width="1.5" />
<rect x="38.90" y="176.30" width="4.50" height="73.70" fill="#575757" stroke="#303030" stroke-width="0.4"/>
<rect x="50.03" y="169.30" width="4.50" height="80.70" fill="#0a0a0a" />
<line x1="51.98" y1="160.80" x2="51.98" y2="169.80" stroke="#000" stroke-width="1.5" />
<rect x="53.93" y="170.20" width="4.50" height="79.80" fill="#575757" stroke="#303030" stroke-width="0.4"/>
<line x1="56.18" y1="169.00" x2="56.18" y2="170.70" stroke="#4a4a4a" stroke-width="1.35" />
<rect x="65.06" y="175.60" width="4.50" height="74.40" fill="#0a0a0a" />
<line x1="67.01" y1="170.20" x2="67.01" y2="176.10" stroke="#000" stroke-width="1.5" />
<rect x="68.96" y="172.00" width="4.50" height="78.00" fill="#575757" stroke="#303030" stroke-width="0.4"/>
<line x1="71.21" y1="171.00" x2="71.21" y2="172.50" stroke="#4a4a4a" stroke-width="1.35" />
<rect x="80.09" y="179.90" width="4.50" height="70.10" fill="#0a0a0a" />
<line x1="82.04" y1="171.40" x2="82.04" y2="180.40" stroke="#000" stroke-width="1.5" />
<rect x="83.99" y="173.00" width="4.50" height="77.00" fill="#575757" stroke="#303030" stroke-width="0.4"/>
<line x1="86.24" y1="172.00" x2="86.24" y2="173.50" stroke="#4a4a4a" stroke-width="1.35" />
<rect x="95.12" y="174.40" width="4.50" height="75.60" fill="#0a0a0a" />
<line x1="97.07" y1="160.80" x2="97.07" y2="174.90" stroke="#000" stroke-width="1.5" />
<rect x="99.02" y="175.40" width="4.50" height="74.60" fill="#575757" stroke="#303030" stroke-width="0.4"/>
<rect x="110.15" y="171.40" width="4.50" height="78.60" fill="#0a0a0a" />
<line x1="112.10" y1="153.50" x2="112.10" y2="171.90" stroke="#000" stroke-width="1.5" />
<rect x="114.05" y="170.20" width="4.50" height="79.80" fill="#575757" stroke="#303030" stroke-width="0.4"/>
<line x1="116.30" y1="169.30" x2="116.30" y2="170.70" stroke="#4a4a4a" stroke-width="1.35" />
<rect x="125.18" y="173.20" width="4.50" height="76.80" fill="#0a0a0a" />
<line x1="127.13" y1="169.80" x2="127.13" y2="173.70" stroke="#000" stroke-width="1.5" />
<rect x="129.08" y="172.60" width="4.50" height="77.40" fill="#575757" stroke="#303030" stroke-width="0.4"/>
<line x1="131.33" y1="168.00" x2="131.33" y2="173.10" stroke="#4a4a4a" stroke-width="1.35" />
<rect x="140.21" y="178.00" width="4.50" height="72.00" fill="#0a0a0a" />
<line x1="142.16" y1="175.00" x2="142.16" y2="178.50" stroke="#000" stroke-width="1.5" />
<rect x="144.11" y="170.20" width="4.50" height="79.80" fill="#575757" stroke="#303030" stroke-width="0.4"/>
<line x1="146.36" y1="167.10" x2="146.36" y2="170.70" stroke="#4a4a4a" stroke-width="1.35" />
<rect x="155.24" y="181.00" width="4.50" height="69.00" fill="#0a0a0a" />
<line x1="157.19" y1="176.70" x2="157.19" y2="181.50" stroke="#000" stroke-width="1.5" />
<rect x="159.14" y="169.40" width="4.50" height="80.60" fill="#575757" stroke="#303030" stroke-width="0.4"/>
<line x1="161.39" y1="165.80" x2="161.39" y2="169.90" stroke="#4a4a4a" stroke-width="1.35" />
<rect x="170.27" y="182.80" width="4.50" height="67.20" fill="#0a0a0a" />
<line x1="172.22" y1="176.70" x2="172.22" y2="183.30" stroke="#000" stroke-width="1.5" />
<rect x="174.17" y="185.20" width="4.50" height="64.80" fill="#575757" stroke="#303030" stroke-width="0.4"/>
<line x1="176.42" y1="181.30" x2="176.42" y2="185.70" stroke="#4a4a4a" stroke-width="1.35" />
<rect x="185.30" y="190.00" width="4.50" height="60.00" fill="#0a0a0a" />
<line x1="187.25" y1="183.40" x2="187.25" y2="190.50" stroke="#000" stroke-width="1.5" />
<rect x="189.20" y="197.10" width="4.50" height="52.90" fill="#575757" stroke="#303030" stroke-width="0.4"/>
<rect x="200.33" y="184.60" width="4.50" height="65.40" fill="#0a0a0a" />
<line x1="202.28" y1="181.30" x2="202.28" y2="185.10" stroke="#000" stroke-width="1.5" />
<rect x="204.23" y="185.80" width="4.50" height="64.20" fill="#575757" stroke="#303030" stroke-width="0.4"/>
<line x1="206.48" y1="181.80" x2="206.48" y2="186.30" stroke="#4a4a4a" stroke-width="1.35" />
<rect x="215.36" y="178.30" width="4.50" height="71.70" fill="#0a0a0a" />
<line x1="217.31" y1="172.20" x2="217.31" y2="178.80" stroke="#000" stroke-width="1.5" />
<rect x="219.26" y="173.00" width="4.50" height="77.00" fill="#575757" stroke="#303030" stroke-width="0.4"/>
<line x1="221.51" y1="164.00" x2="221.51" y2="173.50" stroke="#4a4a4a" stroke-width="1.35" />
<rect x="230.39" y="162.80" width="4.50" height="87.20" fill="#0a0a0a" />
<line x1="232.34" y1="148.50" x2="232.34" y2="163.30" stroke="#000" stroke-width="1.5" />
<rect x="234.29" y="180.10" width="4.50" height="69.90" fill="#575757" stroke="#303030" stroke-width="0.4"/>
<rect x="245.42" y="181.30" width="4.50" height="68.70" fill="#0a0a0a" />
<line x1="247.37" y1="178.30" x2="247.37" y2="181.80" stroke="#000" stroke-width="1.5" />
<rect x="249.32" y="169.40" width="4.50" height="80.60" fill="#575757" stroke="#303030" stroke-width="0.4"/>
<line x1="251.57" y1="161.60" x2="251.57" y2="169.90" stroke="#4a4a4a" stroke-width="1.35" />
<rect x="260.45" y="189.10" width="4.50" height="60.90" fill="#0a0a0a" />
<line x1="262.40" y1="187.00" x2="262.40" y2="189.60" stroke="#000" stroke-width="1.5" />
<rect x="264.35" y="177.30" width="4.50" height="72.70" fill="#575757" stroke="#303030" stroke-width="0.4"/>
<line x1="266.60" y1="175.50" x2="266.60" y2="177.80" stroke="#4a4a4a" stroke-width="1.35" />
<rect x="275.48" y="178.90" width="4.50" height="71.10" fill="#0a0a0a" />
<line x1="277.43" y1="171.30" x2="277.43" y2="179.40" stroke="#000" stroke-width="1.5" />
<rect x="279.38" y="173.30" width="4.50" height="76.70" fill="#575757" stroke="#303030" stroke-width="0.4"/>
<line x1="281.63" y1="163.10" x2="281.63" y2="173.80" stroke="#4a4a4a" stroke-width="1.35" />
<rect x="290.51" y="174.90" width="4.50" height="75.10" fill="#0a0a0a" />
<line x1="292.46" y1="163.40" x2="292.46" y2="175.40" stroke="#000" stroke-width="1.5" />
<rect x="294.41" y="176.10" width="4.50" height="73.90" fill="#575757" stroke="#303030" stroke-width="0.4"/>
<line x1="296.66" y1="165.50" x2="296.66" y2="176.60" stroke="#4a4a4a" stroke-width="1.35" />
<rect x="305.54" y="181.80" width="4.50" height="68.20" fill="#0a0a0a" />
<line x1="307.49" y1="173.30" x2="307.49" y2="182.30" stroke="#000" stroke-width="1.5" />
<rect x="309.44" y="182.80" width="4.50" height="67.20" fill="#575757" stroke="#303030" stroke-width="0.4"/>
<line x1="311.69" y1="180.40" x2="311.69" y2="183.30" stroke="#4a4a4a" stroke-width="1.35" />
<rect x="320.57" y="171.30" width="4.50" height="78.70" fill="#0a0a0a" />
<line x1="322.52" y1="165.80" x2="322.52" y2="171.80" stroke="#000" stroke-width="1.5" />
<rect x="324.47" y="168.50" width="4.50" height="81.50" fill="#575757" stroke="#303030" stroke-width="0.4"/>
<line x1="326.72" y1="167.60" x2="326.72" y2="169.00" stroke="#4a4a4a" stroke-width="1.35" />
<rect x="335.60" y="169.70" width="4.50" height="80.30" fill="#0a0a0a" />
<line x1="337.55" y1="164.30" x2="337.55" y2="170.20" stroke="#000" stroke-width="1.5" />
<rect x="339.50" y="193.50" width="4.50" height="56.50" fill="#575757" stroke="#303030" stroke-width="0.4"/>
<line x1="341.75" y1="192.50" x2="341.75" y2="194.00" stroke="#4a4a4a" stroke-width="1.35" />
<rect x="350.63" y="176.50" width="4.50" height="73.50" fill="#0a0a0a" />
<line x1="352.58" y1="172.50" x2="352.58" y2="177.00" stroke="#000" stroke-width="1.5" />
<rect x="354.53" y="179.40" width="4.50" height="70.60" fill="#575757" stroke="#303030" stroke-width="0.4"/>
<rect x="365.66" y="175.50" width="4.50" height="74.50" fill="#0a0a0a" />
<rect x="369.56" y="170.60" width="4.50" height="79.40" fill="#575757" stroke="#303030" stroke-width="0.4"/>
<line x1="371.81" y1="165.20" x2="371.81" y2="171.10" stroke="#4a4a4a" stroke-width="1.35" />
<rect x="380.69" y="168.90" width="4.50" height="81.10" fill="#0a0a0a" />
<line x1="382.64" y1="164.50" x2="382.64" y2="169.40" stroke="#000" stroke-width="1.5" />
<rect x="384.59" y="210.00" width="4.50" height="40.00" fill="#575757" stroke="#303030" stroke-width="0.4"/>
<rect x="395.72" y="176.50" width="4.50" height="73.50" fill="#0a0a0a" />
<line x1="397.67" y1="159.80" x2="397.67" y2="177.00" stroke="#000" stroke-width="1.5" />
<rect x="399.62" y="175.00" width="4.50" height="75.00" fill="#575757" stroke="#303030" stroke-width="0.4"/>
<line x1="401.87" y1="170.20" x2="401.87" y2="175.50" stroke="#4a4a4a" stroke-width="1.35" />
<rect x="410.75" y="184.00" width="4.50" height="66.00" fill="#0a0a0a" />
<line x1="412.70" y1="179.20" x2="412.70" y2="184.50" stroke="#000" stroke-width="1.5" />
<rect x="414.65" y="182.00" width="4.50" height="68.00" fill="#575757" stroke="#303030" stroke-width="0.4"/>
<line x1="416.90" y1="178.90" x2="416.90" y2="182.50" stroke="#4a4a4a" stroke-width="1.35" />
<rect x="425.78" y="161.20" width="4.50" height="88.80" fill="#0a0a0a" />
<line x1="427.73" y1="153.30" x2="427.73" y2="161.70" stroke="#000" stroke-width="1.5" />
<rect x="429.68" y="174.30" width="4.50" height="75.70" fill="#575757" stroke="#303030" stroke-width="0.4"/>
<line x1="431.93" y1="173.30" x2="431.93" y2="174.80" stroke="#4a4a4a" stroke-width="1.35" />
<rect x="440.81" y="174.90" width="4.50" height="75.10" fill="#0a0a0a" />
<line x1="442.76" y1="171.60" x2="442.76" y2="175.40" stroke="#000" stroke-width="1.5" />
<rect x="444.71" y="185.40" width="4.50" height="64.60" fill="#575757" stroke="#303030" stroke-width="0.4"/>
<line x1="446.96" y1="182.00" x2="446.96" y2="185.90" stroke="#4a4a4a" stroke-width="1.35" />
<rect x="455.84" y="176.20" width="4.50" height="73.80" fill="#0a0a0a" />
<line x1="457.79" y1="172.60" x2="457.79" y2="176.70" stroke="#000" stroke-width="1.5" />
<rect x="459.74" y="179.70" width="4.50" height="70.30" fill="#575757" stroke="#303030" stroke-width="0.4"/>
<rect x="470.87" y="170.60" width="4.50" height="79.40" fill="#0a0a0a" />
<line x1="472.82" y1="166.50" x2="472.82" y2="171.10" stroke="#000" stroke-width="1.5" />
<rect x="474.77" y="178.90" width="4.50" height="71.10" fill="#575757" stroke="#303030" stroke-width="0.4"/>
<line x1="32.50" y1="175.40" x2="479.50" y2="177.30" stroke="#000" stroke-width="1.5" stroke-dasharray="4.2 2.0"/>
<line x1="30.50" y1="249.60" x2="480.50" y2="249.60" stroke="#1a1a1a" stroke-width="1.2" />
<line x1="39.20" y1="249.80" x2="39.20" y2="252.00" stroke="#1a1a1a" stroke-width="1" />
<text transform="translate(40.20,259.20) rotate(-45)" font-size="7.7" font-weight="bold" text-anchor="end" fill="#111" stroke="#111" stroke-width="0.2">Control</text>
<line x1="54.23" y1="249.80" x2="54.23" y2="252.00" stroke="#1a1a1a" stroke-width="1" />
<text transform="translate(55.23,259.20) rotate(-45)" font-size="7.7" font-weight="bold" text-anchor="end" fill="#111" stroke="#111" stroke-width="0.2">miR-15a</text>
<line x1="69.26" y1="249.80" x2="69.26" y2="252.00" stroke="#1a1a1a" stroke-width="1" />
<text transform="translate(70.26,259.20) rotate(-45)" font-size="7.7" font-weight="bold" text-anchor="end" fill="#111" stroke="#111" stroke-width="0.2">miR-16</text>
<line x1="84.29" y1="249.80" x2="84.29" y2="252.00" stroke="#1a1a1a" stroke-width="1" />
<text transform="translate(85.29,259.20) rotate(-45)" font-size="7.7" font-weight="bold" text-anchor="end" fill="#111" stroke="#111" stroke-width="0.2">miR-103</text>
<line x1="99.32" y1="249.80" x2="99.32" y2="252.00" stroke="#1a1a1a" stroke-width="1" />
<text transform="translate(100.32,259.20) rotate(-45)" font-size="7.7" font-weight="bold" text-anchor="end" fill="#111" stroke="#111" stroke-width="0.2">miR-107</text>
<line x1="114.35" y1="249.80" x2="114.35" y2="252.00" stroke="#1a1a1a" stroke-width="1" />
<text transform="translate(115.35,259.20) rotate(-45)" font-size="7.7" font-weight="bold" text-anchor="end" fill="#111" stroke="#111" stroke-width="0.2">miR-126</text>
<line x1="129.38" y1="249.80" x2="129.38" y2="252.00" stroke="#1a1a1a" stroke-width="1" />
<text transform="translate(130.38,259.20) rotate(-45)" font-size="7.7" font-weight="bold" text-anchor="end" fill="#111" stroke="#111" stroke-width="0.2">miR-195</text>
<line x1="144.41" y1="249.80" x2="144.41" y2="252.00" stroke="#1a1a1a" stroke-width="1" />
<text transform="translate(145.41,259.20) rotate(-45)" font-size="7.7" font-weight="bold" text-anchor="end" fill="#111" stroke="#111" stroke-width="0.2">miR-21</text>
<line x1="159.44" y1="249.80" x2="159.44" y2="252.00" stroke="#1a1a1a" stroke-width="1" />
<text transform="translate(160.44,259.20) rotate(-45)" font-size="7.7" font-weight="bold" text-anchor="end" fill="#111" stroke="#111" stroke-width="0.2">miR-23a</text>
<line x1="174.47" y1="249.80" x2="174.47" y2="252.00" stroke="#1a1a1a" stroke-width="1" />
<text transform="translate(175.47,259.20) rotate(-45)" font-size="7.7" font-weight="bold" text-anchor="end" fill="#111" stroke="#111" stroke-width="0.2">miR-23b</text>
<line x1="189.50" y1="249.80" x2="189.50" y2="252.00" stroke="#1a1a1a" stroke-width="1" />
<text transform="translate(190.50,259.20) rotate(-45)" font-size="7.7" font-weight="bold" text-anchor="end" fill="#111" stroke="#111" stroke-width="0.2">miR-24</text>
<polygon points="187.30,250.00 194.94,257.64 168.77,283.80 161.14,276.16" fill="none" stroke="#111" stroke-width="1.3"/>
<line x1="204.53" y1="249.80" x2="204.53" y2="252.00" stroke="#1a1a1a" stroke-width="1" />
<text transform="translate(205.53,259.20) rotate(-45)" font-size="7.7" font-weight="bold" text-anchor="end" fill="#111" stroke="#111" stroke-width="0.2">miR-27a</text>
<line x1="219.56" y1="249.80" x2="219.56" y2="252.00" stroke="#1a1a1a" stroke-width="1" />
<text transform="translate(220.56,259.20) rotate(-45)" font-size="7.7" font-weight="bold" text-anchor="end" fill="#111" stroke="#111" stroke-width="0.2">miR-27b</text>
<line x1="234.59" y1="249.80" x2="234.59" y2="252.00" stroke="#1a1a1a" stroke-width="1" />
<text transform="translate(235.59,259.20) rotate(-45)" font-size="7.7" font-weight="bold" text-anchor="end" fill="#111" stroke="#111" stroke-width="0.2">miR-29a</text>
<line x1="249.62" y1="249.80" x2="249.62" y2="252.00" stroke="#1a1a1a" stroke-width="1" />
<text transform="translate(250.62,259.20) rotate(-45)" font-size="7.7" font-weight="bold" text-anchor="end" fill="#111" stroke="#111" stroke-width="0.2">miR-210</text>
<line x1="264.65" y1="249.80" x2="264.65" y2="252.00" stroke="#1a1a1a" stroke-width="1" />
<text transform="translate(265.65,259.20) rotate(-45)" font-size="7.7" font-weight="bold" text-anchor="end" fill="#111" stroke="#111" stroke-width="0.2">miR-335</text>
<polygon points="262.45,250.00 270.09,257.64 243.92,283.80 236.29,276.16" fill="none" stroke="#555" stroke-width="1.0"/>
<line x1="279.68" y1="249.80" x2="279.68" y2="252.00" stroke="#1a1a1a" stroke-width="1" />
<text transform="translate(280.68,259.20) rotate(-45)" font-size="7.7" font-weight="bold" text-anchor="end" fill="#111" stroke="#111" stroke-width="0.2">miR-424</text>
<line x1="294.71" y1="249.80" x2="294.71" y2="252.00" stroke="#1a1a1a" stroke-width="1" />
<text transform="translate(295.71,259.20) rotate(-45)" font-size="7.7" font-weight="bold" text-anchor="end" fill="#111" stroke="#111" stroke-width="0.2">miR-497</text>
<line x1="309.74" y1="249.80" x2="309.74" y2="252.00" stroke="#1a1a1a" stroke-width="1" />
<text transform="translate(310.74,259.20) rotate(-45)" font-size="7.7" font-weight="bold" text-anchor="end" fill="#111" stroke="#111" stroke-width="0.2">miR-503</text>
<line x1="324.77" y1="249.80" x2="324.77" y2="252.00" stroke="#1a1a1a" stroke-width="1" />
<text transform="translate(325.77,259.20) rotate(-45)" font-size="7.7" font-weight="bold" text-anchor="end" fill="#111" stroke="#111" stroke-width="0.2">miR-20a</text>
<line x1="339.80" y1="249.80" x2="339.80" y2="252.00" stroke="#1a1a1a" stroke-width="1" />
<text transform="translate(340.80,259.20) rotate(-45)" font-size="7.7" font-weight="bold" text-anchor="end" fill="#111" stroke="#111" stroke-width="0.2">miR-22</text>
<polygon points="337.60,250.00 345.24,257.64 319.07,283.80 311.44,276.16" fill="none" stroke="#555" stroke-width="1.0"/>
<line x1="354.83" y1="249.80" x2="354.83" y2="252.00" stroke="#1a1a1a" stroke-width="1" />
<text transform="translate(355.83,259.20) rotate(-45)" font-size="7.7" font-weight="bold" text-anchor="end" fill="#111" stroke="#111" stroke-width="0.2">miR-93</text>
<line x1="369.86" y1="249.80" x2="369.86" y2="252.00" stroke="#1a1a1a" stroke-width="1" />
<text transform="translate(370.86,259.20) rotate(-45)" font-size="7.7" font-weight="bold" text-anchor="end" fill="#111" stroke="#111" stroke-width="0.2">miR-130a</text>
<line x1="384.89" y1="249.80" x2="384.89" y2="252.00" stroke="#1a1a1a" stroke-width="1" />
<text transform="translate(385.89,259.20) rotate(-45)" font-size="7.7" font-weight="bold" text-anchor="end" fill="#111" stroke="#111" stroke-width="0.2">miR-146a</text>
<polygon points="382.69,250.40 390.33,258.04 363.10,285.26 355.47,277.62" fill="none" stroke="#555" stroke-width="1.0"/>
<line x1="399.92" y1="249.80" x2="399.92" y2="252.00" stroke="#1a1a1a" stroke-width="1" />
<text transform="translate(400.92,259.20) rotate(-45)" font-size="7.7" font-weight="bold" text-anchor="end" fill="#111" stroke="#111" stroke-width="0.2">miR-155</text>
<line x1="414.95" y1="249.80" x2="414.95" y2="252.00" stroke="#1a1a1a" stroke-width="1" />
<text transform="translate(415.95,259.20) rotate(-45)" font-size="7.7" font-weight="bold" text-anchor="end" fill="#111" stroke="#111" stroke-width="0.2">miR-221</text>
<line x1="429.98" y1="249.80" x2="429.98" y2="252.00" stroke="#1a1a1a" stroke-width="1" />
<text transform="translate(430.98,259.20) rotate(-45)" font-size="7.7" font-weight="bold" text-anchor="end" fill="#111" stroke="#111" stroke-width="0.2">miR-222</text>
<line x1="445.01" y1="249.80" x2="445.01" y2="252.00" stroke="#1a1a1a" stroke-width="1" />
<text transform="translate(446.01,259.20) rotate(-45)" font-size="7.7" font-weight="bold" text-anchor="end" fill="#111" stroke="#111" stroke-width="0.2">miR-320</text>
<line x1="460.04" y1="249.80" x2="460.04" y2="252.00" stroke="#1a1a1a" stroke-width="1" />
<text transform="translate(461.04,259.20) rotate(-45)" font-size="7.7" font-weight="bold" text-anchor="end" fill="#111" stroke="#111" stroke-width="0.2">miR-214</text>
<line x1="475.07" y1="249.80" x2="475.07" y2="252.00" stroke="#1a1a1a" stroke-width="1" />
<text transform="translate(476.07,259.20) rotate(-45)" font-size="7.7" font-weight="bold" text-anchor="end" fill="#111" stroke="#111" stroke-width="0.2">miR-100</text>
<rect x="436.90" y="136.00" width="12.10" height="5.70" fill="#000" />
<rect x="436.90" y="147.50" width="12.10" height="5.80" fill="#575757" />
<text x="454.80" y="141.02" font-size="7.6" font-weight="bold" text-anchor="start" fill="#111" stroke="#111" stroke-width="0.25" >Human</text>
<text x="454.20" y="152.67" font-size="7.6" font-weight="bold" text-anchor="start" fill="#111" stroke="#111" stroke-width="0.25" >Mouse</text>
<text x="5.80" y="303.64" font-size="11" font-weight="bold" text-anchor="middle" fill="#000" stroke="#000" stroke-width="0.35">F</text>
<line x1="30.00" y1="307.50" x2="30.00" y2="384.60" stroke="#1a1a1a" stroke-width="1.3" />
<line x1="28.40" y1="384.00" x2="30.00" y2="384.00" stroke="#1a1a1a" stroke-width="1" />
<text x="27.10" y="386.26" font-size="6.3" font-weight="bold" text-anchor="end" fill="#111" stroke="#111" stroke-width="0.25" >0.0</text>
<line x1="28.40" y1="364.94" x2="30.00" y2="364.94" stroke="#1a1a1a" stroke-width="1" />
<text x="27.10" y="367.20" font-size="6.3" font-weight="bold" text-anchor="end" fill="#111" stroke="#111" stroke-width="0.25" >0.2</text>
<line x1="28.40" y1="345.88" x2="30.00" y2="345.88" stroke="#1a1a1a" stroke-width="1" />
<text x="27.10" y="348.14" font-size="6.3" font-weight="bold" text-anchor="end" fill="#111" stroke="#111" stroke-width="0.25" >0.4</text>
<line x1="28.40" y1="326.82" x2="30.00" y2="326.82" stroke="#1a1a1a" stroke-width="1" />
<text x="27.10" y="329.08" font-size="6.3" font-weight="bold" text-anchor="end" fill="#111" stroke="#111" stroke-width="0.25" >0.6</text>
<line x1="28.40" y1="307.76" x2="30.00" y2="307.76" stroke="#1a1a1a" stroke-width="1" />
<text x="27.10" y="310.02" font-size="6.3" font-weight="bold" text-anchor="end" fill="#111" stroke="#111" stroke-width="0.25" >0.8</text>
<text transform="translate(10.80,342.60) rotate(-90)" font-size="6.3" font-weight="normal" text-anchor="middle" fill="#111" stroke="#111" stroke-width="0.25">Plasma miR-24 levels</text>
<text transform="translate(17.10,344.60) rotate(-90)" font-size="6.3" font-weight="normal" text-anchor="middle" fill="#111" stroke="#111" stroke-width="0.25">(Human)</text>
<line x1="36.25" y1="391.25" x2="114.50" y2="391.25" stroke="#333" stroke-width="1.7" />
<line x1="48.90" y1="391.25" x2="48.90" y2="393.00" stroke="#1a1a1a" stroke-width="1" />
<text x="48.90" y="399.83" font-size="6.5" font-weight="bold" text-anchor="middle" fill="#111" stroke="#111" stroke-width="0.25" >HC</text>
<line x1="75.00" y1="391.25" x2="75.00" y2="393.00" stroke="#1a1a1a" stroke-width="1" />
<text x="75.00" y="399.83" font-size="6.5" font-weight="bold" text-anchor="middle" fill="#111" stroke="#111" stroke-width="0.25" >T1DM</text>
<line x1="100.60" y1="391.25" x2="100.60" y2="393.00" stroke="#1a1a1a" stroke-width="1" />
<text x="100.60" y="399.83" font-size="6.5" font-weight="bold" text-anchor="middle" fill="#111" stroke="#111" stroke-width="0.25" >T2DM</text>
<polyline points="49.20,312.30 49.20,310.00 102.70,310.00 102.70,312.30" fill="none" stroke="#1a1a1a" stroke-width="1"/>
<text x="76.30" y="310.95" font-size="8.5" font-weight="bold" text-anchor="middle" fill="#111" stroke="#111" stroke-width="0.25">****</text>
<polyline points="49.20,324.60 49.20,322.50 75.60,322.50 75.60,325.10" fill="none" stroke="#1a1a1a" stroke-width="1"/>
<text x="63.00" y="323.65" font-size="8.5" font-weight="bold" text-anchor="middle" fill="#111" stroke="#111" stroke-width="0.25">*</text>
<circle cx="49.20" cy="314.20" r="1.4" fill="#111"/>
<circle cx="49.20" cy="329.20" r="1.4" fill="#111"/>
<circle cx="48.30" cy="335.40" r="1.4" fill="#111"/>
<circle cx="51.20" cy="335.40" r="1.4" fill="#111"/>
<circle cx="48.30" cy="346.90" r="1.4" fill="#111"/>
<circle cx="53.00" cy="349.40" r="1.4" fill="#111"/>
<circle cx="48.30" cy="352.70" r="1.4" fill="#111"/>
<circle cx="50.80" cy="352.30" r="1.4" fill="#111"/>
<circle cx="75.00" cy="330.70" r="1.0" fill="#111"/>
<circle cx="73.80" cy="341.40" r="1.0" fill="#111"/>
<circle cx="76.70" cy="343.40" r="1.0" fill="#111"/>
<circle cx="77.20" cy="353.30" r="1.0" fill="#111"/>
<circle cx="73.80" cy="357.00" r="1.0" fill="#111"/>
<circle cx="75.00" cy="361.30" r="1.0" fill="#111"/>
<circle cx="70.20" cy="372.20" r="1.0" fill="#111"/>
<circle cx="72.40" cy="372.70" r="1.0" fill="#111"/>
<circle cx="74.60" cy="373.00" r="1.0" fill="#111"/>
<circle cx="77.20" cy="372.20" r="1.0" fill="#111"/>
<circle cx="80.10" cy="371.20" r="1.0" fill="#111"/>
<circle cx="75.00" cy="378.80" r="1.0" fill="#111"/>
<circle cx="100.70" cy="335.60" r="1.4" fill="#111"/>
<circle cx="99.30" cy="347.10" r="1.4" fill="#111"/>
<circle cx="104.00" cy="350.00" r="1.4" fill="#111"/>
<circle cx="102.40" cy="352.90" r="1.4" fill="#111"/>
<circle cx="99.30" cy="355.60" r="1.4" fill="#111"/>
<circle cx="96.00" cy="360.40" r="1.4" fill="#111"/>
<circle cx="98.70" cy="361.70" r="1.4" fill="#111"/>
<circle cx="101.30" cy="361.70" r="1.4" fill="#111"/>
<circle cx="104.00" cy="362.00" r="1.4" fill="#111"/>
<circle cx="106.90" cy="361.70" r="1.4" fill="#111"/>
<circle cx="96.00" cy="364.90" r="1.4" fill="#111"/>
<circle cx="97.30" cy="366.00" r="1.4" fill="#111"/>
<circle cx="100.00" cy="364.90" r="1.4" fill="#111"/>
<circle cx="102.70" cy="365.30" r="1.4" fill="#111"/>
<circle cx="105.30" cy="366.00" r="1.4" fill="#111"/>
<circle cx="97.10" cy="368.00" r="1.4" fill="#111"/>
<circle cx="100.00" cy="368.70" r="1.4" fill="#111"/>
<circle cx="104.00" cy="368.00" r="1.4" fill="#111"/>
<circle cx="98.00" cy="372.70" r="1.4" fill="#111"/>
<circle cx="101.30" cy="372.70" r="1.4" fill="#111"/>
<circle cx="104.70" cy="372.40" r="1.4" fill="#111"/>
<circle cx="97.60" cy="375.30" r="1.4" fill="#111"/>
<circle cx="101.10" cy="376.90" r="1.4" fill="#111"/>
<circle cx="98.00" cy="378.70" r="1.4" fill="#111"/>
<circle cx="100.70" cy="380.70" r="1.4" fill="#111"/>
<circle cx="104.00" cy="379.60" r="1.4" fill="#111"/>
<line x1="43.00" y1="339.60" x2="56.00" y2="339.60" stroke="#111" stroke-width="1.3" />
<line x1="49.50" y1="325.80" x2="49.50" y2="353.40" stroke="#444" stroke-width="0.8" />
<line x1="46.50" y1="325.80" x2="52.50" y2="325.80" stroke="#888" stroke-width="0.9" />
<line x1="46.50" y1="353.40" x2="52.50" y2="353.40" stroke="#888" stroke-width="0.9" />
<line x1="68.50" y1="358.40" x2="81.50" y2="358.40" stroke="#111" stroke-width="1.3" />
<line x1="75.00" y1="348.60" x2="75.00" y2="368.20" stroke="#444" stroke-width="0.8" />
<line x1="72.00" y1="348.60" x2="78.00" y2="348.60" stroke="#888" stroke-width="0.9" />
<line x1="72.00" y1="368.20" x2="78.00" y2="368.20" stroke="#888" stroke-width="0.9" />
<line x1="95.50" y1="367.10" x2="106.50" y2="367.10" stroke="#111" stroke-width="1.3" />
<line x1="101.00" y1="361.00" x2="101.00" y2="373.00" stroke="#444" stroke-width="0.8" />
<line x1="98.00" y1="361.00" x2="104.00" y2="361.00" stroke="#888" stroke-width="0.9" />
<line x1="98.00" y1="373.00" x2="104.00" y2="373.00" stroke="#888" stroke-width="0.9" />
<text x="141.90" y="303.34" font-size="11" font-weight="bold" text-anchor="middle" fill="#000" stroke="#000" stroke-width="0.35">G</text>
<line x1="164.10" y1="307.30" x2="164.10" y2="391.90" stroke="#1a1a1a" stroke-width="1.3" />
<line x1="162.50" y1="391.30" x2="164.10" y2="391.30" stroke="#1a1a1a" stroke-width="1" />
<text x="161.20" y="393.56" font-size="6.3" font-weight="bold" text-anchor="end" fill="#111" stroke="#111" stroke-width="0.25" >0</text>
<line x1="162.50" y1="374.56" x2="164.10" y2="374.56" stroke="#1a1a1a" stroke-width="1" />
<text x="161.20" y="376.82" font-size="6.3" font-weight="bold" text-anchor="end" fill="#111" stroke="#111" stroke-width="0.25" >6</text>
<line x1="162.50" y1="357.82" x2="164.10" y2="357.82" stroke="#1a1a1a" stroke-width="1" />
<text x="161.20" y="360.08" font-size="6.3" font-weight="bold" text-anchor="end" fill="#111" stroke="#111" stroke-width="0.25" >12</text>
<line x1="162.50" y1="341.08" x2="164.10" y2="341.08" stroke="#1a1a1a" stroke-width="1" />
<text x="161.20" y="343.34" font-size="6.3" font-weight="bold" text-anchor="end" fill="#111" stroke="#111" stroke-width="0.25" >18</text>
<line x1="162.50" y1="324.34" x2="164.10" y2="324.34" stroke="#1a1a1a" stroke-width="1" />
<text x="161.20" y="326.60" font-size="6.3" font-weight="bold" text-anchor="end" fill="#111" stroke="#111" stroke-width="0.25" >24</text>
<line x1="162.50" y1="307.60" x2="164.10" y2="307.60" stroke="#1a1a1a" stroke-width="1" />
<text x="161.20" y="309.86" font-size="6.3" font-weight="bold" text-anchor="end" fill="#111" stroke="#111" stroke-width="0.25" >30</text>
<text transform="translate(143.80,348.70) rotate(-90)" font-size="6.3" font-weight="normal" text-anchor="middle" fill="#111" stroke="#111" stroke-width="0.25">Plasma VWF (µg/ml)</text>
<text transform="translate(151.70,348.70) rotate(-90)" font-size="6.3" font-weight="normal" text-anchor="middle" fill="#111" stroke="#111" stroke-width="0.25">(Human)</text>
<line x1="163.80" y1="391.30" x2="248.30" y2="391.30" stroke="#1a1a1a" stroke-width="1.2" />
<line x1="164.70" y1="391.30" x2="164.70" y2="393.30" stroke="#1a1a1a" stroke-width="1" />
<text x="164.70" y="399.66" font-size="6.3" font-weight="bold" text-anchor="middle" fill="#111" stroke="#111" stroke-width="0.25" >0.0</text>
<line x1="185.18" y1="391.30" x2="185.18" y2="393.30" stroke="#1a1a1a" stroke-width="1" />
<text x="185.18" y="399.66" font-size="6.3" font-weight="bold" text-anchor="middle" fill="#111" stroke="#111" stroke-width="0.25" >0.2</text>
<line x1="205.66" y1="391.30" x2="205.66" y2="393.30" stroke="#1a1a1a" stroke-width="1" />
<text x="205.66" y="399.66" font-size="6.3" font-weight="bold" text-anchor="middle" fill="#111" stroke="#111" stroke-width="0.25" >0.4</text>
<line x1="226.14" y1="391.30" x2="226.14" y2="393.30" stroke="#1a1a1a" stroke-width="1" />
<text x="226.14" y="399.66" font-size="6.3" font-weight="bold" text-anchor="middle" fill="#111" stroke="#111" stroke-width="0.25" >0.6</text>
<line x1="246.62" y1="391.30" x2="246.62" y2="393.30" stroke="#1a1a1a" stroke-width="1" />
<text x="246.62" y="399.66" font-size="6.3" font-weight="bold" text-anchor="middle" fill="#111" stroke="#111" stroke-width="0.25" >0.8</text>
<text x="206.40" y="408.06" font-size="6.3" font-weight="bold" text-anchor="middle" fill="#111" stroke="#111" stroke-width="0.25" >miR-24</text>
<text x="209.60" y="315.48" font-size="6.1" font-weight="bold" text-anchor="start" fill="#111" stroke="#111" stroke-width="0.25" >R=-0.6179</text>
<text x="209.60" y="322.58" font-size="6.1" font-weight="bold" text-anchor="start" fill="#111" stroke="#111" stroke-width="0.25" >P&lt;&#160;&#160;0.0001</text>
<circle cx="178.70" cy="317.10" r="1.45" fill="#111"/>
<circle cx="185.00" cy="322.60" r="1.45" fill="#111"/>
<circle cx="182.90" cy="328.60" r="1.45" fill="#111"/>
<circle cx="176.30" cy="329.70" r="1.45" fill="#111"/>
<circle cx="177.60" cy="332.10" r="1.45" fill="#111"/>
<circle cx="180.70" cy="333.40" r="1.45" fill="#111"/>
<circle cx="185.00" cy="335.60" r="1.45" fill="#111"/>
<circle cx="189.30" cy="336.50" r="1.45" fill="#111"/>
<circle cx="198.70" cy="337.20" r="1.45" fill="#111"/>
<circle cx="176.30" cy="339.20" r="1.45" fill="#111"/>
<circle cx="180.70" cy="339.20" r="1.45" fill="#111"/>
<circle cx="188.60" cy="338.70" r="1.45" fill="#111"/>
<circle cx="178.70" cy="340.80" r="1.45" fill="#111"/>
<circle cx="181.40" cy="341.60" r="1.45" fill="#111"/>
<circle cx="188.20" cy="340.80" r="1.45" fill="#111"/>
<circle cx="189.70" cy="342.40" r="1.45" fill="#111"/>
<circle cx="205.10" cy="341.30" r="1.45" fill="#111"/>
<circle cx="195.60" cy="343.20" r="1.45" fill="#111"/>
<circle cx="178.20" cy="343.20" r="1.45" fill="#111"/>
<circle cx="190.50" cy="345.10" r="1.45" fill="#111"/>
<circle cx="185.00" cy="346.00" r="1.45" fill="#111"/>
<circle cx="177.60" cy="347.60" r="1.45" fill="#111"/>
<circle cx="180.70" cy="348.70" r="1.45" fill="#111"/>
<circle cx="197.60" cy="347.10" r="1.45" fill="#111"/>
<circle cx="228.70" cy="348.20" r="1.45" fill="#111"/>
<circle cx="178.70" cy="352.60" r="1.45" fill="#111"/>
<circle cx="182.90" cy="354.50" r="1.45" fill="#111"/>
<circle cx="209.50" cy="356.60" r="1.45" fill="#111"/>
<circle cx="184.20" cy="358.20" r="1.45" fill="#111"/>
<circle cx="198.70" cy="362.90" r="1.45" fill="#111"/>
<circle cx="200.80" cy="363.40" r="1.45" fill="#111"/>
<circle cx="202.80" cy="363.40" r="1.45" fill="#111"/>
<circle cx="225.00" cy="362.40" r="1.45" fill="#111"/>
<circle cx="217.40" cy="367.20" r="1.45" fill="#111"/>
<circle cx="240.70" cy="367.20" r="1.45" fill="#111"/>
<line x1="170.30" y1="332.90" x2="240.30" y2="371.60" stroke="#111" stroke-width="1.2" />
<text x="274.05" y="303.99" font-size="11" font-weight="bold" text-anchor="middle" fill="#000" stroke="#000" stroke-width="0.35">H</text>
<line x1="299.10" y1="308.80" x2="299.10" y2="393.40" stroke="#1a1a1a" stroke-width="1.3" />
<line x1="297.50" y1="392.80" x2="299.10" y2="392.80" stroke="#1a1a1a" stroke-width="1" />
<text x="294.70" y="395.20" font-size="6.7" font-weight="bold" text-anchor="end" fill="#111" stroke="#111" stroke-width="0.25" >0.0</text>
<line x1="297.50" y1="364.96" x2="299.10" y2="364.96" stroke="#1a1a1a" stroke-width="1" />
<text x="294.70" y="367.36" font-size="6.7" font-weight="bold" text-anchor="end" fill="#111" stroke="#111" stroke-width="0.25" >0.2</text>
<line x1="297.50" y1="337.12" x2="299.10" y2="337.12" stroke="#1a1a1a" stroke-width="1" />
<text x="294.70" y="339.52" font-size="6.7" font-weight="bold" text-anchor="end" fill="#111" stroke="#111" stroke-width="0.25" >0.4</text>
<line x1="297.50" y1="309.28" x2="299.10" y2="309.28" stroke="#1a1a1a" stroke-width="1" />
<text x="294.70" y="311.68" font-size="6.7" font-weight="bold" text-anchor="end" fill="#111" stroke="#111" stroke-width="0.25" >0.6</text>
<text transform="translate(277.50,350.70) rotate(-90)" font-size="6.7" font-weight="normal" text-anchor="middle" fill="#111" stroke="#111" stroke-width="0.25">Plasma miR-24 levels</text>
<text transform="translate(284.90,349.30) rotate(-90)" font-size="6.4" font-weight="normal" text-anchor="middle" fill="#111" stroke="#111" stroke-width="0.25">(Human)</text>
<line x1="298.40" y1="392.80" x2="383.00" y2="392.80" stroke="#1a1a1a" stroke-width="1.2" />
<line x1="298.90" y1="392.80" x2="298.90" y2="394.80" stroke="#1a1a1a" stroke-width="1" />
<text x="298.90" y="402.17" font-size="6.9" font-weight="bold" text-anchor="middle" fill="#111" stroke="#111" stroke-width="0.25" >6</text>
<line x1="326.67" y1="392.80" x2="326.67" y2="394.80" stroke="#1a1a1a" stroke-width="1" />
<text x="326.67" y="402.17" font-size="6.9" font-weight="bold" text-anchor="middle" fill="#111" stroke="#111" stroke-width="0.25" >7</text>
<line x1="354.44" y1="392.80" x2="354.44" y2="394.80" stroke="#1a1a1a" stroke-width="1" />
<text x="354.44" y="402.17" font-size="6.9" font-weight="bold" text-anchor="middle" fill="#111" stroke="#111" stroke-width="0.25" >8</text>
<line x1="382.21" y1="392.80" x2="382.21" y2="394.80" stroke="#1a1a1a" stroke-width="1" />
<text x="382.21" y="402.17" font-size="6.9" font-weight="bold" text-anchor="middle" fill="#111" stroke="#111" stroke-width="0.25" >9</text>
<text x="340.80" y="409.51" font-size="7.0" font-weight="bold" text-anchor="middle" fill="#111" stroke="#111" stroke-width="0.25" >HbA1c(%)</text>
<text x="336.10" y="316.09" font-size="6.4" font-weight="normal" text-anchor="start" fill="#111" stroke="#111" stroke-width="0.4" >R= -0.5485</text>
<text x="336.10" y="323.19" font-size="6.4" font-weight="normal" text-anchor="start" fill="#111" stroke="#111" stroke-width="0.4" >P=&#160;&#160;0.0045</text>
<circle cx="307.30" cy="321.60" r="1.45" fill="#111"/>
<circle cx="318.60" cy="332.80" r="1.45" fill="#111"/>
<circle cx="321.30" cy="338.50" r="1.45" fill="#111"/>
<circle cx="310.00" cy="357.70" r="1.45" fill="#111"/>
<circle cx="326.80" cy="359.30" r="1.45" fill="#111"/>
<circle cx="321.10" cy="366.20" r="1.45" fill="#111"/>
<circle cx="321.10" cy="370.40" r="1.45" fill="#111"/>
<circle cx="323.80" cy="375.70" r="1.45" fill="#111"/>
<circle cx="326.80" cy="375.70" r="1.45" fill="#111"/>
<circle cx="329.60" cy="375.70" r="1.45" fill="#111"/>
<circle cx="334.90" cy="360.70" r="1.45" fill="#111"/>
<circle cx="337.70" cy="359.30" r="1.45" fill="#111"/>
<circle cx="334.90" cy="369.90" r="1.45" fill="#111"/>
<circle cx="337.70" cy="367.40" r="1.45" fill="#111"/>
<circle cx="337.70" cy="373.40" r="1.45" fill="#111"/>
<circle cx="337.70" cy="374.50" r="1.45" fill="#111"/>
<circle cx="343.50" cy="364.60" r="1.45" fill="#111"/>
<circle cx="348.80" cy="370.40" r="1.45" fill="#111"/>
<circle cx="357.30" cy="359.30" r="1.45" fill="#111"/>
<circle cx="368.40" cy="367.40" r="1.45" fill="#111"/>
<circle cx="368.90" cy="378.50" r="1.45" fill="#111"/>
<circle cx="368.90" cy="381.20" r="1.45" fill="#111"/>
<circle cx="343.50" cy="384.20" r="1.45" fill="#111"/>
<circle cx="354.30" cy="387.00" r="1.45" fill="#111"/>
<line x1="307.20" y1="351.90" x2="368.40" y2="380.80" stroke="#111" stroke-width="1.2" />
</g></svg>
</body></html>
